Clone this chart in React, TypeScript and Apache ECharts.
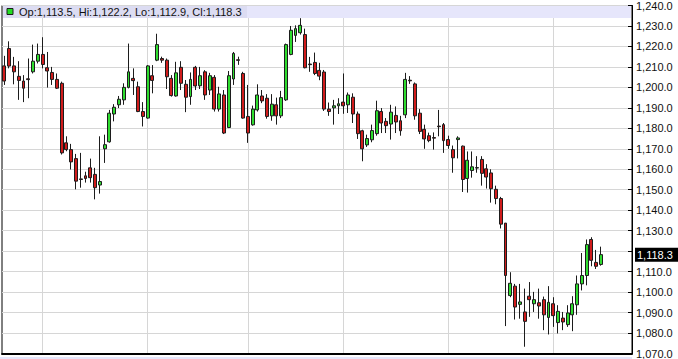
import React, { useEffect, useRef } from "react";
import * as echarts from "echarts";

// Daily OHLC (Feb 18 – Aug 14, 2015 trading days)
const opens = [
  1210.5, 1219.0, 1210.5, 1205.4, 1203.1, 1204.2, 1207.6, 1212.8, 1216.1, 1209.6,
  1207.3, 1203.9, 1202.0, 1172.9, 1169.6, 1165.2, 1155.3, 1156.8, 1160.7, 1157.5,
  1152.3, 1170.0, 1173.4, 1187.0, 1191.5, 1193.9, 1200.0, 1204.4, 1200.3, 1188.2,
  1185.0, 1205.7, 1213.3, 1214.1, 1213.3, 1204.4, 1195.8, 1209.8, 1201.5, 1195.5,
  1209.8, 1200.8, 1207.6, 1198.7, 1204.9, 1189.4, 1196.3, 1180.4, 1204.1, 1213.5,
  1206.8, 1185.8, 1181.7, 1189.0, 1195.8, 1194.7, 1186.1, 1191.5, 1186.1, 1193.9,
  1216.1, 1225.4, 1226.7, 1225.8, 1211.4, 1212.2, 1208.3, 1207.5, 1189.4, 1190.0,
  1191.0, 1192.8, 1191.5, 1195.2, 1187.0, 1178.8, 1171.9, 1174.4, 1177.4, 1188.2,
  1183.4, 1182.1, 1186.3, 1183.7, 1186.6, 1203.5, 1201.7, 1187.4, 1179.5, 1176.4,
  1175.5, 1181.1, 1181.8, 1174.5, 1169.6, 1174.5, 1171.3, 1155.5, 1159.4, 1160.6,
  1164.8, 1160.2, 1158.2, 1150.2, 1145.7, 1133.7, 1098.3, 1102.9, 1094.0, 1090.3,
  1098.0, 1094.3, 1094.8, 1096.3, 1087.6, 1094.3, 1085.1, 1087.3, 1084.1, 1088.9,
  1093.8, 1104.0, 1108.1, 1125.7, 1114.5, 1113.5,
];
const closes = [
  1203.1, 1210.4, 1207.6, 1203.4, 1199.6, 1203.8, 1212.8, 1216.1, 1211.2, 1208.0,
  1203.9, 1199.6, 1168.0, 1169.6, 1163.6, 1154.2, 1155.0, 1155.5, 1155.9, 1151.0,
  1154.0, 1172.0, 1187.4, 1190.3, 1194.2, 1200.0, 1207.6, 1203.3, 1188.2, 1185.8,
  1210.5, 1203.4, 1220.9, 1213.3, 1205.2, 1196.0, 1207.1, 1202.0, 1195.2, 1203.9,
  1200.7, 1205.7, 1196.3, 1205.7, 1189.4, 1196.8, 1177.7, 1205.7, 1216.6, 1213.2,
  1185.0, 1177.7, 1189.4, 1196.3, 1193.4, 1185.8, 1191.8, 1186.1, 1195.0, 1220.9,
  1227.9, 1228.7, 1230.3, 1209.6, 1211.1, 1206.8, 1205.5, 1189.4, 1188.2, 1191.0,
  1192.0, 1191.0, 1196.3, 1187.0, 1177.4, 1170.0, 1175.0, 1178.9, 1188.6, 1182.6,
  1181.3, 1187.9, 1183.1, 1178.8, 1203.9, 1203.2, 1186.1, 1178.5, 1174.8, 1174.0,
  1175.2, 1180.8, 1174.0, 1171.6, 1165.6, 1175.3, 1155.0, 1164.4, 1161.2, 1160.8,
  1158.0, 1156.2, 1150.5, 1145.7, 1133.2, 1108.1, 1104.3, 1092.7, 1095.2, 1085.7,
  1096.3, 1096.3, 1093.2, 1088.9, 1095.0, 1088.5, 1090.6, 1085.4, 1089.8, 1094.3,
  1104.0, 1108.1, 1123.2, 1115.5, 1112.6, 1118.3,
];
const lows = [
  1201.2, 1209.3, 1201.5, 1193.9, 1192.8, 1194.7, 1206.8, 1211.7, 1209.3, 1199.9,
  1201.2, 1199.2, 1167.2, 1168.8, 1159.9, 1150.2, 1151.0, 1153.5, 1153.5, 1145.3,
  1148.1, 1163.1, 1173.0, 1183.4, 1189.9, 1191.5, 1199.5, 1196.3, 1187.9, 1180.9,
  1184.7, 1197.1, 1212.8, 1212.0, 1199.2, 1195.5, 1195.5, 1198.7, 1187.9, 1191.5,
  1198.7, 1199.2, 1193.9, 1196.3, 1188.2, 1188.2, 1177.2, 1180.1, 1201.2, 1211.0,
  1184.7, 1172.9, 1181.3, 1188.2, 1192.3, 1184.7, 1183.7, 1181.8, 1185.0, 1193.4,
  1215.7, 1222.2, 1225.8, 1209.3, 1207.6, 1206.0, 1203.5, 1188.5, 1186.1, 1181.8,
  1187.0, 1187.1, 1187.5, 1182.6, 1174.8, 1163.9, 1170.9, 1173.2, 1176.4, 1177.7,
  1177.7, 1174.5, 1177.7, 1176.4, 1185.0, 1201.7, 1184.2, 1177.2, 1170.0, 1173.2,
  1169.6, 1176.1, 1168.0, 1170.0, 1158.3, 1165.3, 1148.9, 1148.6, 1155.9, 1158.3,
  1152.0, 1150.6, 1143.7, 1142.9, 1131.1, 1083.4, 1097.5, 1086.6, 1087.0, 1073.3,
  1087.9, 1090.3, 1087.0, 1081.4, 1079.3, 1083.0, 1079.8, 1081.4, 1083.0, 1080.9,
  1088.9, 1100.8, 1103.3, 1112.6, 1111.3, 1112.9,
];
const highs = [
  1215.4, 1222.5, 1214.9, 1212.8, 1206.0, 1214.1, 1220.9, 1221.4, 1224.5, 1217.3,
  1210.0, 1206.8, 1202.8, 1176.1, 1172.4, 1167.5, 1168.0, 1158.8, 1165.2, 1160.7,
  1176.1, 1176.9, 1189.0, 1191.8, 1195.8, 1202.0, 1221.4, 1209.3, 1202.8, 1192.8,
  1210.9, 1210.9, 1226.2, 1215.0, 1214.1, 1206.0, 1212.5, 1212.8, 1203.6, 1207.3,
  1210.5, 1210.0, 1208.4, 1207.1, 1206.0, 1200.3, 1198.7, 1208.0, 1217.3, 1215.0,
  1207.6, 1201.2, 1191.1, 1201.5, 1198.7, 1196.7, 1196.7, 1195.0, 1198.3, 1221.4,
  1230.0, 1230.3, 1233.8, 1228.7, 1214.9, 1217.0, 1212.0, 1208.5, 1192.6, 1193.9,
  1194.7, 1206.8, 1197.5, 1197.1, 1188.2, 1179.3, 1176.9, 1181.8, 1193.5, 1189.9,
  1185.0, 1191.5, 1190.7, 1186.1, 1207.1, 1205.5, 1202.4, 1189.4, 1181.8, 1177.9,
  1178.0, 1189.0, 1182.6, 1176.4, 1171.6, 1176.1, 1171.6, 1168.7, 1168.7, 1166.4,
  1166.4, 1162.5, 1160.0, 1152.0, 1146.5, 1133.7, 1109.7, 1104.0, 1104.0, 1101.7,
  1104.9, 1100.1, 1101.7, 1097.8, 1102.9, 1097.5, 1093.6, 1090.3, 1093.6, 1098.0,
  1108.1, 1119.1, 1125.7, 1126.8, 1120.6, 1122.2,
];

// Axis settings / categories
const Y_MIN = 1070;
const Y_MAX = 1240;
const Y_STEP = 10;
const START_DATE = [2015, 1, 18]; // 2015-02-18
const HOLIDAYS = ["2015-04-03", "2015-05-25", "2015-07-03"];
const TOTAL_SLOTS = 132; // 126 sessions + empty space on the right

function buildDays(): string[] {
  const out: string[] = [];
  const d = new Date(Date.UTC(START_DATE[0], START_DATE[1], START_DATE[2]));
  while (out.length < TOTAL_SLOTS) {
    const dow = d.getUTCDay();
    const s = d.toISOString().slice(0, 10);
    if (dow !== 0 && dow !== 6 && !HOLIDAYS.includes(s)) out.push(s);
    d.setUTCDate(d.getUTCDate() + 1);
  }
  return out;
}

const fmt = (v: number) =>
  v.toLocaleString("en-US", { minimumFractionDigits: 1, maximumFractionDigits: 1 });

const FONT = "'Liberation Sans', Arial, sans-serif";

export default function App() {
  const ref = useRef<HTMLDivElement>(null);
  useEffect(() => {
    if (!ref.current) return;
    const chart = echarts.init(ref.current, null, { renderer: "svg" });
    const days = buildDays();
    const data = opens.map((o, i) => [o, closes[i], lows[i], highs[i]]);
    const n = opens.length - 1;
    const last = closes[n];
    const isMonthStart = (idx: number) =>
      idx > 0 && days[idx] && days[idx - 1] && days[idx].slice(5, 7) !== days[idx - 1].slice(5, 7);
    const header = `Op:${fmt(opens[n])}, Hi:${fmt(highs[n])}, Lo:${fmt(lows[n])}, Cl:${fmt(closes[n])}`;

    chart.setOption({
      animation: false,
      backgroundColor: "#ffffff",
      grid: {
        left: 2,
        right: 46,
        top: 5,
        bottom: 4,
        show: true,
        borderColor: "#000",
        borderWidth: 1,
        backgroundColor: "transparent",
      },
      xAxis: {
        type: "category",
        data: days,
        boundaryGap: true,
        axisLine: { show: true, lineStyle: { color: "#000", width: 2 } },
        axisTick: { show: false },
        axisLabel: { show: false },
        splitLine: {
          show: true,
          alignWithLabel: true,
          interval: (idx: number) => !!isMonthStart(idx),
          lineStyle: { color: "#d6d6d6", width: 1 },
        },
      },
      yAxis: {
        type: "value",
        position: "right",
        min: Y_MIN,
        max: Y_MAX,
        interval: Y_STEP,
        axisLine: { show: true, lineStyle: { color: "#000", width: 1 } },
        axisTick: { show: true, inside: true, length: 4, lineStyle: { color: "#000" } },
        axisLabel: {
          color: "#111",
          fontSize: 11,
          fontFamily: FONT,
          margin: 4,
          // the tick label hidden behind the last-price tag is not drawn
          formatter: (v: number) => (Math.abs(v - last) < 5 ? "" : fmt(v)),
        },
        splitLine: { show: true, lineStyle: { color: "#d6d6d6", width: 1 } },
      },
      series: [
        {
          type: "candlestick",
          data,
          barWidth: 3.4,
          itemStyle: {
            color: "#2fdc2f",
            color0: "#d01c1c",
            borderColor: "#1c1c1c",
            borderColor0: "#1c1c1c",
            borderWidth: 1,
          },
          markLine: {
            silent: true,
            symbol: "none",
            z: 10,
            lineStyle: { width: 0, color: "rgba(0,0,0,0)", type: "solid" },
            label: {
              show: true,
              position: "end",
              distance: 3,
              formatter: () => fmt(last),
              backgroundColor: "#000",
              color: "#fff",
              opacity: 1,
              fontSize: 11,
              fontFamily: FONT,
              padding: [2, 6, 1, 2],
            },
            emphasis: { disabled: true },
            data: [{ yAxis: last }],
          },
        },
      ],
      graphic: [
        { type: "rect", z: 3, shape: { x: 3, y: 6, width: 244, height: 12 }, style: { fill: "#dcdcf2" } },
        { type: "rect", z: 3, shape: { x: 247, y: 6, width: 384, height: 12 }, style: { fill: "#e6e6fb" } },
        { type: "rect", z: 4, shape: { x: 7, y: 8.5, width: 6, height: 6 }, style: { fill: "#22dd22", stroke: "#1c1c1c", lineWidth: 1 } },
        {
          type: "text",
          z: 4,
          x: 19,
          y: 12,
          style: { text: header, fill: "#111", fontSize: 11, fontFamily: FONT, verticalAlign: "middle" },
        },
        { type: "rect", z: 3, shape: { x: 0, y: 357, width: 632, height: 2 }, style: { fill: "#e6e6fb" } },
      ],
    });
    return () => chart.dispose();
  }, []);
  return <div ref={ref} style={{ position: "absolute", left: 0, top: 0, width: 678, height: 359 }} />;
}
